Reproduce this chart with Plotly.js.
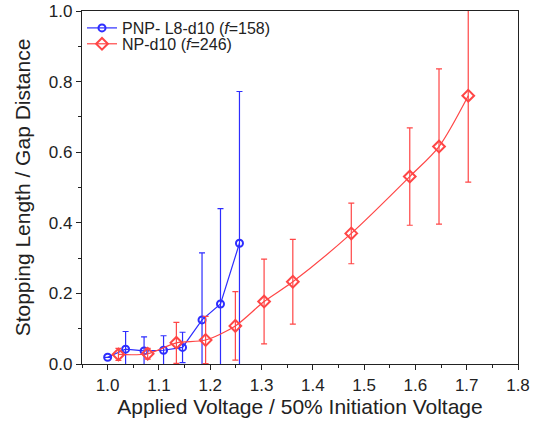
<!DOCTYPE html>
<html>
<head>
<meta charset="utf-8">
<script src="https://cdn.plot.ly/plotly-3.0.1.min.js"></script>
<style>html,body{margin:0;padding:0;background:#fff;}#chart{width:543px;height:427px;}</style>
</head>
<body>
<div id="chart"></div>
<script>
// Blue series: PNP- L8-d10
const pnpX = [1.000, 1.035, 1.071, 1.109, 1.146, 1.184, 1.220, 1.257];
const pnpY = [0.019, 0.042, 0.037, 0.039, 0.047, 0.125, 0.170, 0.342];
const pnpErr = [0.000, 0.050, 0.040, 0.041, 0.043, 0.190, 0.270, 0.430];
// Red series: NP-d10
const npX = [1.021, 1.078, 1.134, 1.191, 1.249, 1.305, 1.361, 1.475, 1.589, 1.646, 1.703];
const npY = [0.027, 0.029, 0.060, 0.068, 0.108, 0.177, 0.233, 0.370, 0.531, 0.616, 0.760];
const npErr = [0.017, 0.015, 0.058, 0.067, 0.097, 0.120, 0.120, 0.086, 0.138, 0.220, 0.245];

const blue = 'rgb(45,45,255)';
const red = 'rgb(255,70,70)';
const ff = 'Liberation Sans, Arial, sans-serif';

const traces = [
  {
    x: pnpX, y: pnpY, type: 'scatter', mode: 'lines+markers',
    name: 'PNP- L8-d10 (<i>f</i>=158)', legend: 'legend',
    line: {color: blue, width: 1.2},
    marker: {symbol: 'circle-open', size: 7, color: blue, line: {width: 2, color: blue}},
    error_y: {type: 'data', array: pnpErr, visible: true, color: blue, thickness: 1.2, width: 3}
  },
  {
    x: npX, y: npY, type: 'scatter', mode: 'lines+markers',
    name: 'NP-d10 (<i>f</i>=246)', legend: 'legend2',
    line: {color: red, width: 1.2, shape: 'spline', smoothing: 0.8},
    marker: {symbol: 'diamond-open', size: 9, color: red, line: {width: 2, color: red}},
    error_y: {type: 'data', array: npErr, visible: true, color: red, thickness: 1.2, width: 3}
  }
];

const axisFont = {family: ff, size: 17, color: '#222'};
const legFont = {family: ff, size: 16, color: '#222'};
const layout = {
  width: 543, height: 427,
  margin: {l: 82, r: 25, t: 11, b: 63},
  paper_bgcolor: '#fff', plot_bgcolor: '#fff',
  showlegend: true,
  legend: {x: 0.0, y: 1.0, xanchor: 'left', yanchor: 'top', bgcolor: 'rgba(0,0,0,0)',
           font: legFont, itemwidth: 30},
  legend2: {x: 0.0, y: 0.955, xanchor: 'left', yanchor: 'top', bgcolor: 'rgba(0,0,0,0)',
           font: legFont, itemwidth: 30},
  xaxis: {
    range: [0.95, 1.8], dtick: 0.1, tick0: 1.0, tickformat: '.1f', automargin: false,
    ticks: 'outside', ticklen: 5, tickwidth: 1, tickcolor: '#222',
    minor: {dtick: 0.05, tick0: 1.0, ticks: 'outside', ticklen: 3, tickcolor: '#222'},
    showline: true, linecolor: '#222', linewidth: 1.2, mirror: true,
    showgrid: false, zeroline: false, tickfont: axisFont,
    title: {text: 'Applied Voltage / 50% Initiation Voltage', font: {family: ff, size: 21, color: '#222'}, standoff: 3}
  },
  yaxis: {
    range: [0, 1.0], dtick: 0.2, tick0: 0, tickformat: '.1f', automargin: false,
    ticks: 'outside', ticklen: 5, tickwidth: 1, tickcolor: '#222',
    minor: {dtick: 0.1, ticks: 'outside', ticklen: 3, tickcolor: '#222'},
    showline: true, linecolor: '#222', linewidth: 1.2, mirror: true,
    showgrid: false, zeroline: false, tickfont: axisFont,
    title: {text: 'Stopping Length / Gap Distance', font: {family: ff, size: 21, color: '#222'}}
  }
};

Plotly.newPlot('chart', traces, layout, {displayModeBar: false, staticPlot: true});
</script>
</body>
</html>
